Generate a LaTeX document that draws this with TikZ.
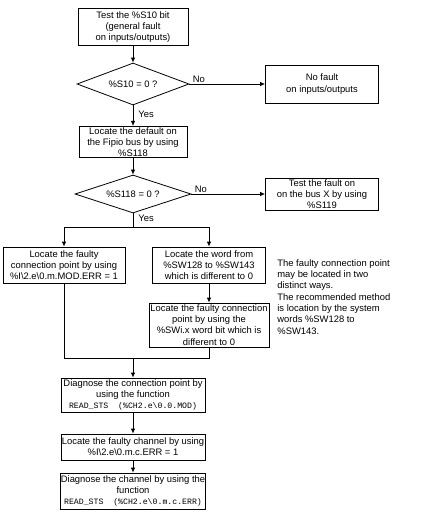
\documentclass[tikz,border=0pt]{standalone}
\usepackage{fontspec}
\setmainfont{Liberation Sans}
\newfontfamily\codefont{Liberation Mono}
\usetikzlibrary{arrows.meta,positioning,shapes.geometric}
\newcommand{\stscall}[1]{{\codefont\fontsize{8.2}{11.2}\selectfont #1}}
\newcommand{\bs}{\textbackslash}

\begin{document}
\begin{tikzpicture}[
    x=1pt, y=-1pt,
    line width=0.8pt,
    >={Latex[length=5pt,width=4.5pt]},
    flow/.style={draw, align=center, font=\fontsize{9.4}{11.2}\selectfont, inner xsep=0.5pt, inner ysep=1pt},
    test/.style={diamond, draw, aspect=2.7, inner sep=0pt, minimum width=112pt, minimum height=42pt, font=\fontsize{9.4}{11.2}\selectfont},
    lab/.style={font=\fontsize{9.4}{11.2}\selectfont, inner sep=0pt},
    note/.style={align=left, font=\fontsize{9.4}{11.3}\selectfont, inner sep=0pt}
]
\useasboundingbox (0,0) rectangle (440,512);
\node[flow, minimum width=110pt, minimum height=37pt] (s10) at (133,27) {Test the \%S10 bit\\(general fault\\on inputs/outputs)};
\node[test] (q10) at (133,84) {\%S10 = 0 ?};
\node[flow, minimum width=113pt, minimum height=38pt] (nofault) at (322,84) {No fault\\on inputs/outputs};
\node[flow, minimum width=108pt, minimum height=30pt] (fipio) at (133,142) {Locate the default on\\the Fipio bus by using\\\%S118};
\node[test, minimum width=116pt, minimum height=38pt] (q118) at (133,194) {\%S118 = 0 ?};
\node[flow, minimum width=113pt, minimum height=32pt] (busx) at (322,194) {Test the fault on\\on the bus X by using\\\%S119};
\node[flow, minimum width=122pt, minimum height=36pt] (modbit) at (64,265) {Locate the faulty\\connection point by using\\\%I\bs2.e\bs0.m.MOD.ERR = 1};
\node[flow, minimum width=113pt, minimum height=36pt] (sword) at (209,265) {Locate the word from\\\%SW128 to \%SW143\\which is different to 0};
\node[flow, minimum width=120pt, minimum height=44pt] (swbit) at (209,325) {Locate the faulty connection\\point by using the\\\%SWi.x word bit which is\\different to 0};
\node[note, anchor=north west] (why) at (277,259) {The faulty connection point\\may be located in two\\distinct ways.\\The recommended method\\is location by the system\\words \%SW128 to\\\%SW143.};
\node[flow, minimum width=144pt, minimum height=34pt] (diagpt) at (133,395) {Diagnose the connection point by\\using the function\\\stscall{READ\_STS\ \ (\%CH2.e\bs0.0.MOD)}};
\node[flow, minimum width=144pt, minimum height=26pt] (chan) at (133,447) {Locate the faulty channel by using\\\%I\bs2.e\bs0.m.c.ERR = 1};
\node[flow, minimum width=144pt, minimum height=36pt] (diagch) at (133,491) {Diagnose the channel by using the\\function\\\stscall{READ\_STS\ \ (\%CH2.e\bs0.m.c.ERR)}};
\node[lab, above right=1pt and 3pt of q10.east] (no10) {No};
\node[lab, below right=5pt and 5pt of q10.south] (yes10) {Yes};
\node[lab, above right=1pt and 3pt of q118.east] (no118) {No};
\node[lab, below right=1pt and 5pt of q118.south] (yes118) {Yes};
\coordinate (fork) at (133,227);
\coordinate (join) at (133,358);
\draw[->] (s10) -- (q10);
\draw[->] (q10) -- (nofault);
\draw[->] (q10) -- (fipio);
\draw[->] (fipio) -- (q118);
\draw[->] (q118) -- (busx);
\draw (q118) -- (fork);
\draw[->] (fork) -| (modbit);
\draw[->] (fork) -| (sword);
\draw[->] (sword) -- (swbit);
\draw (modbit) |- (join);
\draw (swbit) |- (join);
\draw[->] (join) -- (diagpt);
\draw[->] (diagpt) -- (chan);
\draw[->] (chan) -- (diagch);
\end{tikzpicture}
\end{document}
